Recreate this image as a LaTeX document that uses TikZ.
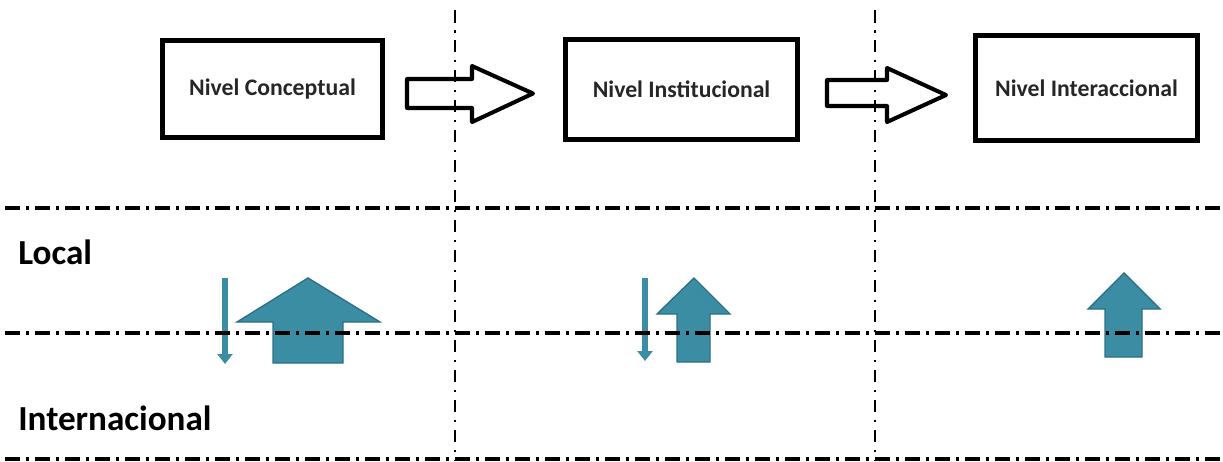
\documentclass[tikz,border=0pt]{standalone}
\usepackage{fontspec}
\setmainfont{Carlito}
\usepackage{xcolor}
\usetikzlibrary{arrows.meta,positioning}
\definecolor{tealc}{HTML}{3A8DA3}
\definecolor{tealdk}{HTML}{2C7185}
\tikzset{
  lvl/.style={draw=black,line width=2.8pt,inner sep=0pt,font=\bfseries\fontsize{13.5}{16}\selectfont,text=black!85},
  tag/.style={anchor=west,inner sep=0pt,font=\bfseries\fontsize{20}{24}\selectfont},
  hollow/.style={draw=black,line width=2.3pt,line join=round},
  upar/.style={fill=tealc,draw=tealdk,line width=0.8pt},
  downar/.style={-{Triangle[length=0.2cm,width=0.3cm]},tealc,line width=0.12cm},
  hsep/.style={black,line width=2pt,dash pattern=on 0.3cm off 0.12cm on 0.06cm off 0.12cm},
  vsep/.style={black,line width=1.5pt,dash pattern=on 0.25cm off 0.15cm on 0.05cm off 0.15cm}
}
\begin{document}
\begin{tikzpicture}[x=0.02cm,y=-0.02cm]
\useasboundingbox (0,0) rectangle (1223,461);
% niveles
\node[lvl,minimum width=4.4cm,minimum height=1.94cm] (conc) at (272.5,89) {Nivel Conceptual};
\node[lvl,minimum width=4.64cm,minimum height=2.0cm] (inst) at (681.5,89.5) {Nivel Institucional};
\node[lvl,minimum width=4.44cm,minimum height=2.1cm] (inter) at (1086.5,88) {Nivel Interaccional};
\draw[hollow] (407,79)--(472,79)--(472,66)--(533,93.5)--(472,122)--(472,108)--(407,108)--cycle;
\draw[hollow] (827,80)--(887,80)--(887,68)--(946,95)--(887,122)--(887,106)--(827,106)--cycle;
% ambitos
\node[tag] (local) at (18,252) {Local};
\node[tag] (intl) at (18,418) {Internacional};
% flechas
\draw[upar] (273,363)--(273,322)--(237,322)--(308,278)--(380,322)--(343,322)--(343,363)--cycle;
\draw[upar] (677,362)--(677,314)--(657,314)--(694,278)--(730,314)--(710,314)--(710,362)--cycle;
\draw[upar] (1105,357)--(1105,309)--(1088,309)--(1124,273)--(1160,309)--(1142,309)--(1142,357)--cycle;
\coordinate (d1a) at (225,278); \coordinate (d1b) at (225,364);
\coordinate (d2a) at (645,278); \coordinate (d2b) at (645,361);
\draw[downar] (d1a) -- (d1b);
\draw[downar] (d2a) -- (d2b);
% separadores
\foreach \y in {208,333,459}
  \draw[hsep] (5,\y) -- (1220,\y);
\foreach \x in {455,875}
  \draw[vsep] (\x,10) -- (\x,461);
\end{tikzpicture}
\end{document}
